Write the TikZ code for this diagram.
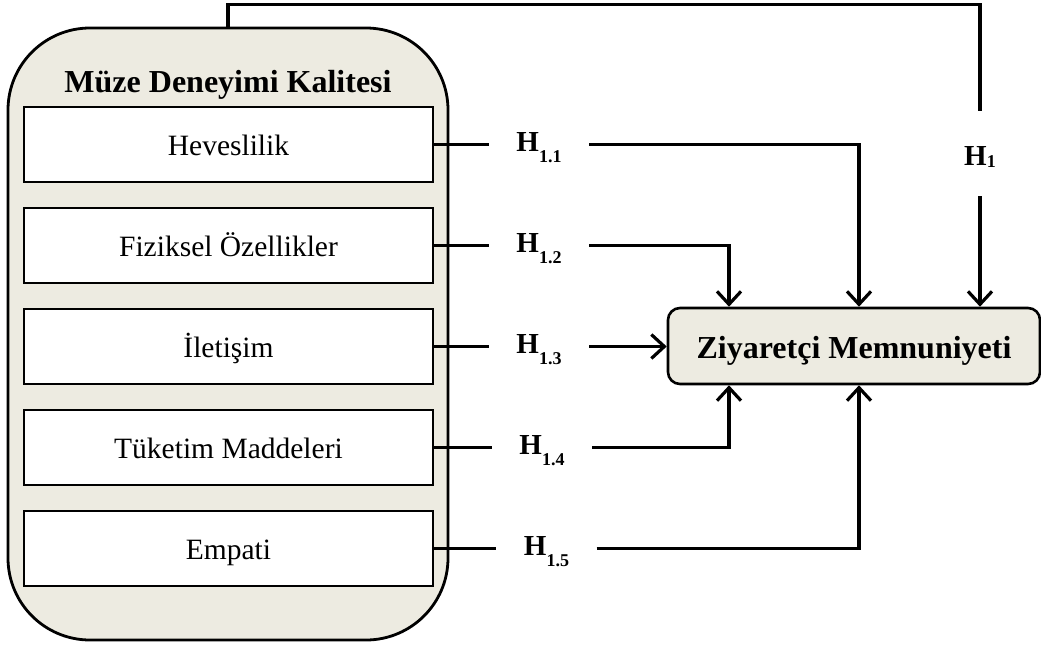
\documentclass[tikz,border=0pt]{standalone}
\usepackage{fontspec}
\setmainfont{Liberation Serif}
\usetikzlibrary{arrows.meta}
\definecolor{beige}{RGB}{237,235,225}
\newcommand\hsub[1]{\raisebox{-11pt}{\fontsize{18}{18}\selectfont #1}}
\begin{document}
\begin{tikzpicture}[x=1pt,y=-1pt,
  outer/.style={draw, line width=2.8pt, fill=beige, rounded corners=82pt, minimum width=440pt, minimum height=612pt, inner sep=0pt},
  factor/.style={draw, line width=1.8pt, fill=white, minimum width=409pt, minimum height=75pt, inner sep=0pt, font=\fontsize{29.5}{29.5}\selectfont, text height=21pt, text depth=0pt},
  target/.style={draw, line width=2.6pt, fill=beige, rounded corners=12pt, minimum width=372pt, minimum height=76pt, inner sep=0pt, font=\fontsize{32}{32}\selectfont\bfseries, text height=24pt, text depth=0pt},
  hyp/.style={minimum width=100pt, inner sep=0pt, font=\fontsize{29}{29}\selectfont\bfseries, text height=20pt, text depth=7pt},
  link/.style={line width=3.2pt},
  arr/.style={line width=3.2pt, -{Straight Barb[length=13pt,width=24pt]}}
]
\useasboundingbox (0,0) rectangle (1041,646);
% outer construct
\node[outer] (mdk) at (228,334) {};
\node[anchor=base, font=\fontsize{32}{32}\selectfont\bfseries] (title) at (228,92) {Müze Deneyimi Kalitesi};
% factors
\node[factor] (b1) at (228.5,144.5) {Heveslilik};
\node[factor] (b2) at (228.5,245.5) {Fiziksel Özellikler};
\node[factor] (b3) at (228.5,346.5) {İletişim};
\node[factor] (b4) at (228.5,447.5) {Tüketim Maddeleri};
\node[factor] (b5) at (228.5,548.5) {Empati};
% target
\node[target] (zm) at (854,346) {Ziyaretçi Memnuniyeti};
% hypothesis labels
\node[hyp] (h11) at (539,144.5) {H\hsub{1.1}};
\node[hyp] (h12) at (539,245.5) {H\hsub{1.2}};
\node[hyp] (h13) at (539,346.5) {H\hsub{1.3}};
\node[hyp] (h14) at (542,447.5) {H\hsub{1.4}};
\node[hyp] (h15) at (546.5,548.5) {H\hsub{1.5}};
\node[hyp, minimum width=0pt, minimum height=85pt, text height=23pt, text depth=0pt] (h1) at (980,153.5) {H\raisebox{-2pt}{\fontsize{18}{18}\selectfont 1}};
% helper x positions
\coordinate (c1) at (859,0);
\coordinate (c2) at (729,0);
% connectors
\draw[link] (b1.east) -- (b1.east -| h11.west);
\draw[link] (b2.east) -- (b2.east -| h12.west);
\draw[link] (b3.east) -- (b3.east -| h13.west);
\draw[link] (b4.east) -- (b4.east -| h14.west);
\draw[link] (b5.east) -- (b5.east -| h15.west);
\draw[arr] (h11.east |- b1.east) -| (zm.north -| c1);
\draw[arr] (h12.east |- b2.east) -| (zm.north -| c2);
\draw[arr] (h13.east |- b3.east) -- (b3.east -| zm.west);
\draw[arr] (h14.east |- b4.east) -| (zm.south -| c2);
\draw[arr] (h15.east |- b5.east) -| (zm.south -| c1);
\draw[link] (mdk.north) -- ++(0,-22) -| (h1.north);
\draw[arr] (h1.south) -- (h1.south |- zm.north);
\end{tikzpicture}
\end{document}
